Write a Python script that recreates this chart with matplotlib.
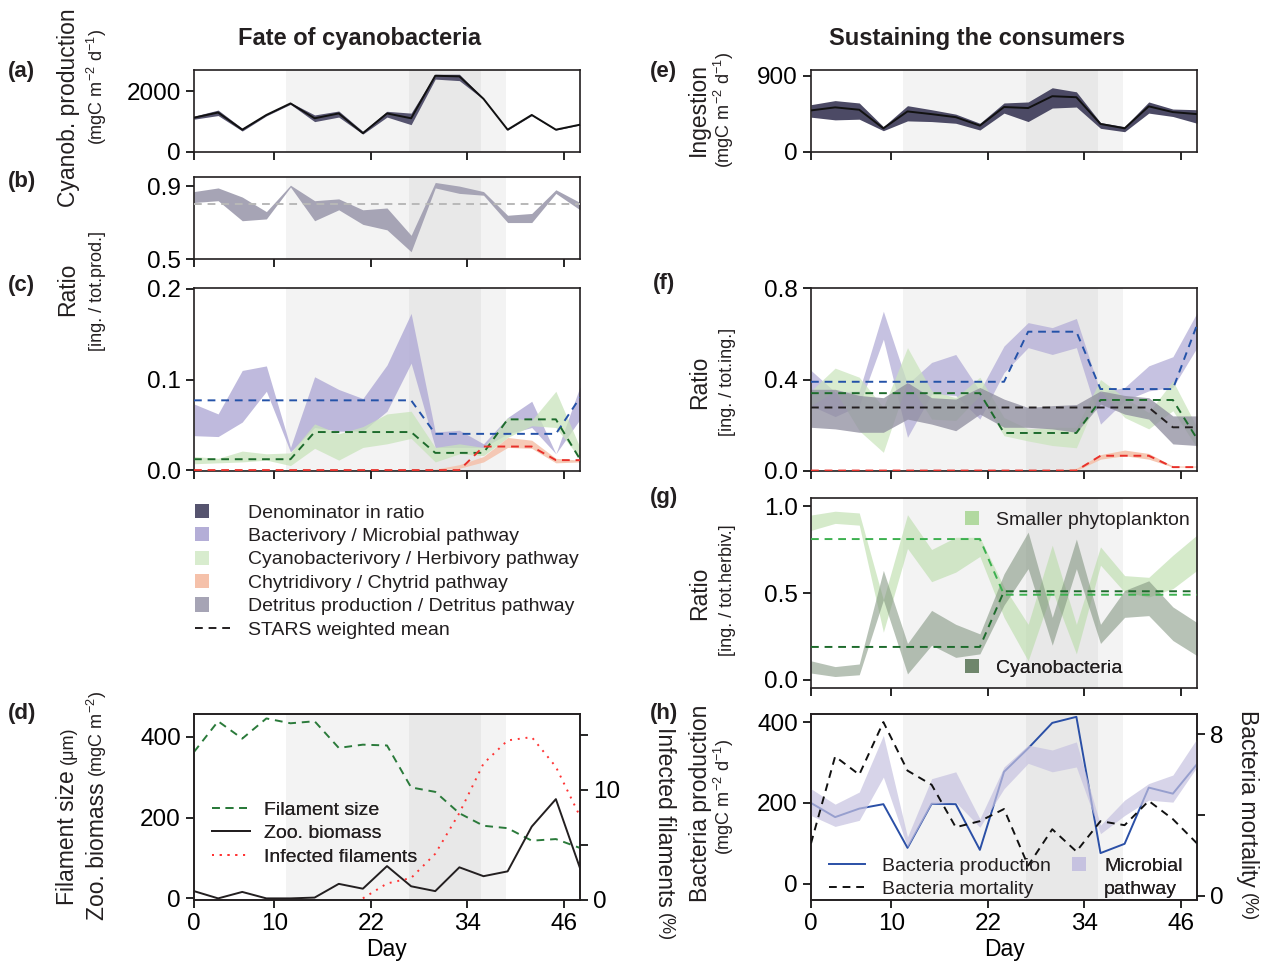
import matplotlib
matplotlib.use('Agg')
import matplotlib.pyplot as plt
import matplotlib.patches as mpatches
from matplotlib.lines import Line2D
from matplotlib.legend_handler import HandlerPatch

plt.rcParams['font.family'] = ['Liberation Sans', 'DejaVu Sans']
plt.rcParams['mathtext.default'] = 'regular'
plt.rcParams['axes.linewidth'] = 1.2
plt.rcParams['text.color'] = '#231f20'
plt.rcParams['axes.edgecolor'] = '#231f20'

# ---- data ----
days = [0, 3, 6, 9, 12, 15, 18, 21, 24, 27, 30, 33, 36, 39, 42, 45, 48]
day_ticks = [0, 10, 22, 34, 46]

# (a) cyanobacteria production
cyano_prod = [1130, 1300, 735, 1220, 1600, 1110, 1270, 620, 1270, 1110, 2510, 2490, 1750, 735, 1220, 735, 900]
cyano_lo = [1080, 1200, 690, 1190, 1570, 1000, 1150, 590, 1150, 900, 2400, 2350, 1730, 720, 1200, 720, 890]
cyano_hi = [1180, 1380, 780, 1250, 1630, 1220, 1350, 680, 1340, 1280, 2560, 2560, 1770, 750, 1240, 750, 910]

# (b) detritus production ratio
det_hi = [0.87, 0.89, 0.84, 0.76, 0.905, 0.82, 0.83, 0.77, 0.78, 0.63, 0.92, 0.90, 0.87, 0.74, 0.75, 0.88, 0.81]
det_lo = [0.81, 0.82, 0.71, 0.72, 0.895, 0.71, 0.77, 0.69, 0.66, 0.54, 0.89, 0.86, 0.85, 0.70, 0.70, 0.86, 0.77]
det_stars = [0.80] * 17

# (c) fate ratios
bac_hi = [0.073, 0.062, 0.110, 0.115, 0.025, 0.103, 0.089, 0.079, 0.116, 0.173, 0.042, 0.044, 0.029, 0.058, 0.076, 0.018, 0.092]
bac_lo = [0.038, 0.037, 0.053, 0.087, 0.020, 0.047, 0.043, 0.043, 0.065, 0.118, 0.025, 0.025, 0.025, 0.040, 0.047, 0.018, 0.056]
bac_stars = [0.077] * 10 + [0.04] * 6 + [0.08]
herb_hi = [0.015, 0.013, 0.021, 0.018, 0.019, 0.051, 0.040, 0.048, 0.062, 0.065, 0.025, 0.029, 0.025, 0.058, 0.055, 0.087, 0.025]
herb_lo = [0.007, 0.008, 0.009, 0.011, 0.005, 0.024, 0.011, 0.025, 0.029, 0.035, 0.009, 0.018, 0.016, 0.036, 0.049, 0.047, 0.013]
herb_stars = [0.012] * 5 + [0.042] * 5 + [0.019] * 3 + [0.056] * 3 + [0.012]
chy_hi = [0] * 10 + [0.001, 0.006, 0.015, 0.036, 0.033, 0.013, 0.011]
chy_lo = [0] * 10 + [0.0, 0.002, 0.009, 0.025, 0.024, 0.008, 0.009]
chy_stars = [0] * 12 + [0.026] * 3 + [0.011] * 2

# (d) filaments and zooplankton
fil_size = [363, 439, 396, 446, 434, 439, 373, 381, 379, 275, 264, 211, 180, 174, 143, 147, 125]
zoo_biom = [18, 0, 16, 0, 0, 2, 36, 24, 80, 30, 18, 77, 55, 67, 178, 246, 75]
inf_days = [21, 24, 27, 30, 33, 36, 39, 42, 45, 48]
infected = [0.15, 1.5, 2.0, 4.2, 7.9, 12.4, 14.5, 14.8, 12.1, 7.6]

# (e) ingestion
ing = [492, 528, 500, 280, 480, 448, 412, 312, 532, 520, 660, 648, 332, 280, 540, 472, 448]
ing_hi = [560, 608, 580, 300, 548, 500, 448, 340, 580, 592, 760, 712, 348, 300, 592, 508, 500]
ing_lo = [412, 380, 388, 252, 368, 360, 340, 260, 460, 360, 520, 532, 280, 240, 460, 420, 340]

# (f) pathway ratios
mic_hi = [0.44, 0.345, 0.35, 0.70, 0.38, 0.475, 0.51, 0.35, 0.547, 0.65, 0.628, 0.668, 0.343, 0.365, 0.46, 0.50, 0.693]
mic_lo = [0.285, 0.237, 0.285, 0.577, 0.146, 0.336, 0.33, 0.226, 0.43, 0.54, 0.51, 0.54, 0.204, 0.307, 0.35, 0.365, 0.54]
mic_stars = [0.39] * 9 + [0.61] * 3 + [0.358] * 4 + [0.64]
hrb_hi = [0.35, 0.45, 0.41, 0.277, 0.54, 0.35, 0.32, 0.41, 0.233, 0.183, 0.19, 0.19, 0.40, 0.32, 0.255, 0.394, 0.19]
hrb_lo = [0.285, 0.35, 0.175, 0.08, 0.394, 0.226, 0.22, 0.33, 0.153, 0.13, 0.11, 0.10, 0.35, 0.233, 0.183, 0.263, 0.10]
hrb_stars = [0.34] * 8 + [0.165] * 4 + [0.31] * 4 + [0.14]
dtp_hi = [0.357, 0.357, 0.33, 0.32, 0.387, 0.32, 0.314, 0.365, 0.314, 0.277, 0.285, 0.29, 0.35, 0.33, 0.32, 0.24, 0.24]
dtp_lo = [0.19, 0.183, 0.168, 0.168, 0.226, 0.204, 0.175, 0.248, 0.19, 0.19, 0.183, 0.168, 0.292, 0.248, 0.226, 0.117, 0.11]
dtp_stars = [0.277] * 15 + [0.19] * 2
chp_hi = [0] * 10 + [0.0, 0.01, 0.07, 0.09, 0.075, 0.02, 0.02]
chp_lo = [0] * 10 + [0.0, 0.0, 0.05, 0.065, 0.05, 0.015, 0.015]
chp_stars = [0] * 12 + [0.065] * 3 + [0.015] * 2

# (g) herbivory split
small_hi = [0.948, 0.97, 0.96, 0.46, 0.95, 0.75, 0.82, 0.82, 0.535, 0.32, 0.775, 0.32, 0.765, 0.60, 0.59, 0.717, 0.833]
small_lo = [0.86, 0.90, 0.89, 0.275, 0.756, 0.565, 0.62, 0.71, 0.36, 0.11, 0.515, 0.15, 0.66, 0.505, 0.477, 0.525, 0.63]
small_stars = [0.81] * 8 + [0.49] * 9
cyb_hi = [0.11, 0.077, 0.092, 0.63, 0.21, 0.40, 0.32, 0.265, 0.61, 0.85, 0.36, 0.81, 0.32, 0.515, 0.57, 0.42, 0.33]
cyb_lo = [0.04, 0.02, 0.03, 0.46, 0.035, 0.20, 0.13, 0.15, 0.43, 0.64, 0.20, 0.64, 0.21, 0.36, 0.37, 0.227, 0.14]
cyb_stars = [0.19] * 8 + [0.51] * 9

# (h) bacteria
bprod = [200, 165, 186, 197, 89, 198, 197, 84, 277, 335, 398, 413, 76, 99, 238, 223, 296]
micro_hi = [235, 197, 227, 367, 116, 260, 277, 161, 289, 343, 331, 351, 145, 207, 248, 269, 359]
micro_lo = [169, 142, 157, 264, 91, 198, 202, 140, 235, 298, 277, 289, 124, 169, 207, 202, 289]
bmort = [2.6, 6.9, 6.0, 8.6, 6.2, 5.5, 3.4, 3.7, 4.3, 1.5, 3.3, 2.2, 3.7, 3.5, 4.7, 3.8, 2.6]

# ---- colours ----
c_denom = '#56546f'
c_bac = '#b4aed7'
c_herb = '#c9e4bb'
c_chy = '#f5c1aa'
c_det = '#a6a4b5'
c_blue = '#2452a8'
c_dgreen = '#1d6b2c'
c_red = '#e8302a'
c_small = '#b9dca8'
c_cyb = '#7c907a'

W, H = 1266, 973
TICK = 17.5
LAB = 16.5
UNIT = 13
LEG = 14

fig = plt.figure(figsize=(12.66, 9.73), dpi=100)


def box(l, t, r, b):
    return [l / W, 1 - b / H, (r - l) / W, (b - t) / H]


def style(ax, bottom_labels=False):
    ax.axvspan(11.5, 38.8, color='#f3f3f3', lw=0, zorder=0)
    ax.axvspan(26.7, 35.7, color='#e8e8e8', lw=0, zorder=0)
    ax.set_xlim(0, 48)
    ax.set_xticks(day_ticks)
    ax.tick_params(labelsize=TICK, direction='out', length=6, width=1.2, labelbottom=bottom_labels)
    if bottom_labels:
        ax.set_xlabel('Day', fontsize=LAB, labelpad=2)


class SquareHandler(HandlerPatch):
    def create_artists(self, legend, orig_handle, xdescent, ydescent, width, height, fontsize, trans):
        s = height * 1.05
        p = mpatches.Rectangle((-xdescent, -ydescent + (height - s) / 2), s, s,
                               facecolor=orig_handle.get_facecolor(), edgecolor='none',
                               alpha=orig_handle.get_alpha(), transform=trans)
        return [p]


def fleg(handles, labels, x, y, hl, htp, ax=None):
    kw = dict(loc='upper left', bbox_to_anchor=(x / W, 1 - y / H), bbox_transform=fig.transFigure,
              frameon=False, fontsize=LEG, handlelength=hl, handletextpad=htp, borderpad=0,
              borderaxespad=0, labelspacing=0.3, handler_map={mpatches.Patch: SquareHandler()})
    if ax is None:
        return fig.legend(handles, labels, **kw)
    leg = ax.legend(handles, labels, **kw)
    ax.add_artist(leg)
    return leg


# ---- (a) ----
ax_a = fig.add_axes(box(194, 70, 580, 152))
style(ax_a)
ax_a.fill_between(days, cyano_lo, cyano_hi, color=c_denom, lw=0, zorder=2)
ax_a.plot(days, cyano_prod, color='#111111', lw=1.4, zorder=3)
ax_a.set_ylim(0, 2700)
ax_a.set_yticks([0, 2000])

# ---- (b) ----
ax_b = fig.add_axes(box(194, 177, 580, 259))
style(ax_b)
ax_b.fill_between(days, det_lo, det_hi, color=c_det, lw=0, zorder=2)
ax_b.plot(days, det_stars, color='#b8b8b8', lw=1.4, ls=(0, (4, 3)), zorder=3)
ax_b.set_ylim(0.5, 0.95)
ax_b.set_yticks([0.5, 0.9])

# ---- (c) ----
ax_c = fig.add_axes(box(194, 288, 580, 471))
style(ax_c)
ax_c.fill_between(days, bac_lo, bac_hi, color=c_bac, lw=0, alpha=0.85, zorder=2)
ax_c.fill_between(days, herb_lo, herb_hi, color=c_herb, lw=0, alpha=0.75, zorder=2)
ax_c.fill_between(days, chy_lo, chy_hi, color=c_chy, lw=0, alpha=0.85, zorder=2)
ax_c.plot(days, bac_stars, color=c_blue, lw=1.4, ls=(0, (4, 3)), zorder=3)
ax_c.plot(days, herb_stars, color=c_dgreen, lw=1.4, ls=(0, (4, 3)), zorder=3)
ax_c.plot(days, chy_stars, color=c_red, lw=1.4, ls=(0, (4, 3)), zorder=3)
ax_c.set_ylim(-0.001, 0.201)
ax_c.set_yticks([0.0, 0.1, 0.2])

leg_handles = [mpatches.Patch(color=c_denom), mpatches.Patch(color=c_bac),
               mpatches.Patch(color='#d8ecce'), mpatches.Patch(color=c_chy),
               mpatches.Patch(color=c_det),
               Line2D([], [], color='#231f20', lw=1.4, ls=(0, (4, 3)))]
leg_labels = ['Denominator in ratio', 'Bacterivory / Microbial pathway',
              'Cyanobacterivory / Herbivory pathway', 'Chytridivory / Chytrid pathway',
              'Detritus production / Detritus pathway', 'STARS weighted mean']
fleg(leg_handles, leg_labels, 195, 504, 1.9, 0.8)

# ---- (d) ----
ax_d = fig.add_axes(box(194, 714, 580, 900))
style(ax_d, bottom_labels=True)
ax_d.plot(days, fil_size, color='#2a7a3a', lw=1.4, ls=(0, (4, 3)), zorder=3, label='Filament size')
ax_d.plot(days, zoo_biom, color='#231f20', lw=1.4, zorder=3, label='Zoo. biomass')
ax_d.set_ylim(-4, 457)
ax_d.set_yticks([0, 200, 400])
ax_d2 = ax_d.twinx()
ax_d2.plot(inf_days, infected, color='#ff3333', lw=1.4, ls=(0, (1, 3)), zorder=3, label='Infected filaments')
ax_d2.set_ylim(0, 16.9)
ax_d2.set_yticks([0, 5, 10, 15])
ax_d2.set_yticklabels(['0', '', '10', ''])
ax_d2.tick_params(labelsize=TICK, direction='out', length=6, width=1.2)
hd = ax_d.get_lines() + ax_d2.get_lines()
fleg(hd, [h.get_label() for h in hd], 212, 801, 1.95, 0.7, ax=ax_d2)

# ---- (e) ----
ax_e = fig.add_axes(box(811, 70, 1197, 152))
style(ax_e)
ax_e.fill_between(days, ing_lo, ing_hi, color='#4c4a65', lw=0, zorder=2)
ax_e.plot(days, ing, color='#111111', lw=1.4, zorder=3)
ax_e.set_ylim(0, 970)
ax_e.set_yticks([0, 900])

# ---- (f) ----
ax_f = fig.add_axes(box(811, 288, 1197, 471))
style(ax_f)
ax_f.fill_between(days, mic_lo, mic_hi, color=c_bac, lw=0, alpha=0.75, zorder=2)
ax_f.fill_between(days, hrb_lo, hrb_hi, color=c_herb, lw=0, alpha=0.7, zorder=2)
ax_f.fill_between(days, dtp_lo, dtp_hi, color='#8e8c9e', lw=0, alpha=0.75, zorder=2)
ax_f.fill_between(days, chp_lo, chp_hi, color=c_chy, lw=0, alpha=0.9, zorder=2)
ax_f.plot(days, mic_stars, color=c_blue, lw=1.4, ls=(0, (4, 3)), zorder=3)
ax_f.plot(days, hrb_stars, color=c_dgreen, lw=1.4, ls=(0, (4, 3)), zorder=3)
ax_f.plot(days, dtp_stars, color='#231f20', lw=1.4, ls=(0, (4, 3)), zorder=3)
ax_f.plot(days, chp_stars, color=c_red, lw=1.4, ls=(0, (4, 3)), zorder=3)
ax_f.set_ylim(-0.002, 0.802)
ax_f.set_yticks([0.0, 0.4, 0.8])

# ---- (g) ----
ax_g = fig.add_axes(box(811, 498, 1197, 688))
style(ax_g)
ax_g.fill_between(days, small_lo, small_hi, color=c_small, lw=0, alpha=0.6, zorder=2)
ax_g.fill_between(days, cyb_lo, cyb_hi, color=c_cyb, lw=0, alpha=0.55, zorder=2)
ax_g.plot(days, small_stars, color='#3cb04f', lw=1.4, ls=(0, (4, 3)), zorder=3)
ax_g.plot(days, cyb_stars, color=c_dgreen, lw=1.4, ls=(0, (4, 3)), zorder=3)
ax_g.set_ylim(-0.046, 1.046)
ax_g.set_yticks([0.0, 0.5, 1.0])
fleg([mpatches.Patch(color='#b2d9a0')], ['Smaller phytoplankton'], 965, 511, 0.8, 0.8, ax=ax_g)
fleg([mpatches.Patch(color='#6f866c')], ['Cyanobacteria'], 965, 659, 0.8, 0.8, ax=ax_g)

# ---- (h) ----
ax_h = fig.add_axes(box(811, 714, 1197, 900))
style(ax_h, bottom_labels=True)
ax_h.plot(days, bprod, color='#2a4fa6', lw=1.4, zorder=2)
ax_h.fill_between(days, micro_lo, micro_hi, color='#c6c2e0', lw=0, alpha=0.7, zorder=3)
ax_h.set_ylim(-40, 420)
ax_h.set_yticks([0, 200, 400])
ax_h2 = ax_h.twinx()
ax_h2.plot(days, bmort, color='#111111', lw=1.4, ls=(0, (4, 3)), zorder=3)
ax_h2.set_ylim(-0.2, 9.0)
ax_h2.set_yticks([0, 4, 8])
ax_h2.set_yticklabels(['0', '', '8'])
ax_h2.tick_params(labelsize=TICK, direction='out', length=6, width=1.2)
fleg([Line2D([], [], color='#2a4fa6', lw=1.4), Line2D([], [], color='#111111', lw=1.4, ls=(0, (4, 3)))],
     ['Bacteria production', 'Bacteria mortality'], 829, 857, 1.85, 0.85, ax=ax_h2)
fleg([mpatches.Patch(color='#c6c2e0'), mpatches.Patch(color='none', alpha=0)],
     ['Microbial', 'pathway'], 1072, 857, 0.8, 0.85, ax=ax_h2)

# ---- titles, panel letters, axis labels ----
fig.text(360 / W, 1 - 39 / H, 'Fate of cyanobacteria', ha='center', va='center', fontsize=17, weight='bold')
fig.text(977 / W, 1 - 39 / H, 'Sustaining the consumers', ha='center', va='center', fontsize=17, weight='bold')

for lab, x, y in [('(a)', 8, 71), ('(b)', 8, 182), ('(c)', 8, 285), ('(d)', 8, 713),
                  ('(e)', 650, 72), ('(f)', 653, 284), ('(g)', 650, 497), ('(h)', 650, 713)]:
    fig.text(x / W, 1 - y / H, lab, ha='left', va='center', fontsize=16, weight='bold')


def vlabel(x, y, s, size):
    fig.text(x / W, 1 - y / H, s, rotation=90, ha='center', va='center', fontsize=size)


units = '(mgC m$^{-2}$ d$^{-1}$)'
vlabel(68, 108, 'Cyanob. production', LAB)
vlabel(97, 87, units, UNIT)
vlabel(68, 289, 'Ratio', LAB)
vlabel(97, 291, '[ing. / tot.prod.]', UNIT)
vlabel(698, 110, 'Ingestion', LAB)
vlabel(724, 110, units, UNIT)
vlabel(700, 382, 'Ratio', LAB)
vlabel(728, 382, '[ing. / tot.ing.]', UNIT)
vlabel(700, 593, 'Ratio', LAB)
vlabel(728, 590, '[ing. / tot.herbiv.]', UNIT)
vlabel(700, 803, 'Bacteria production', LAB)
vlabel(724, 797, units, UNIT)

renderer = fig.canvas.get_renderer()


def stacked(x, y, parts, rotation):
    # parts are placed one after the other along the reading direction
    pos = 1 - y / H
    for s, size in parts:
        if rotation == 90:
            t = fig.text(x / W, pos, s, rotation=90, ha='center', va='bottom', fontsize=size)
            pos = t.get_window_extent(renderer).y1 / fig.bbox.height + 0.006
        else:
            t = fig.text(x / W, pos, s, rotation=270, ha='center', va='top', fontsize=size)
            pos = t.get_window_extent(renderer).y0 / fig.bbox.height - 0.006


stacked(68, 905, [('Filament size', LAB), ('(μm)', UNIT)], 90)
stacked(97, 920, [('Zoo. biomass', LAB), ('(mgC m$^{-2}$)', UNIT)], 90)
stacked(665, 727, [('Infected filaments', LAB), ('(%)', UNIT)], 270)
stacked(1248, 710, [('Bacteria mortality', LAB), ('(%)', UNIT)], 270)

fig.savefig('out.png', dpi=100)
